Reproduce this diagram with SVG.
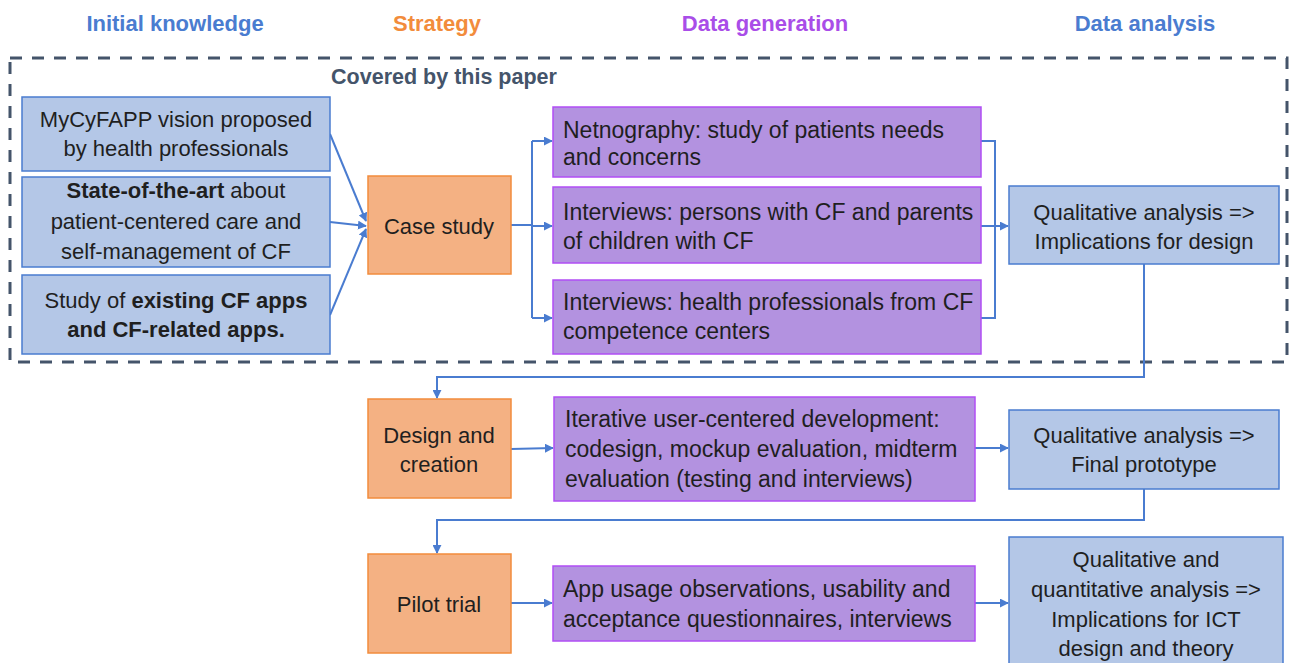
<svg xmlns="http://www.w3.org/2000/svg" width="1290" height="663" viewBox="0 0 1290 663">
<style>
text{font-family:"Liberation Sans",Arial,sans-serif;fill:#1f1f1f;font-size:22px;dominant-baseline:central}
.hdr{font-size:22px;font-weight:bold;text-anchor:middle}
.c{text-anchor:middle}
.b{font-weight:bold}
.p{font-size:23px}
.blue{fill:#B4C7E7;stroke:#4A7CD0;stroke-width:1.5}
.org{fill:#F4B183;stroke:#F28C3C;stroke-width:1.5}
.pur{fill:#B392E0;stroke:#B14EF5;stroke-width:1.5}
.con{fill:none;stroke:#4A7CD0;stroke-width:2}
</style>
<defs>
<marker id="ah" viewBox="0 0 10 10" refX="9" refY="5" markerWidth="9" markerHeight="9" markerUnits="userSpaceOnUse" orient="auto">
<path d="M0,0 L10,5 L0,10 z" fill="#4A7CD0"/>
</marker>
</defs>
<rect width="1290" height="663" fill="#ffffff"/>
<g id="headers">
<text class="hdr" x="175" y="23" style="fill:#4A7CD0">Initial knowledge</text>
<text class="hdr" x="437" y="23" style="fill:#F28C3C">Strategy</text>
<text class="hdr" x="765" y="23" style="fill:#A94DE8">Data generation</text>
<text class="hdr" x="1145" y="23" style="fill:#4A7CD0">Data analysis</text>
</g>
<g id="scope">
<rect x="10" y="58" width="1277" height="304" fill="none" stroke="#44546A" stroke-width="3" stroke-dasharray="12,10"/>
<text x="444" y="77" class="c b" style="fill:#44546A;font-size:21.5px">Covered by this paper</text>
</g>
<g id="connectors">
<path class="con" d="M330,134 L366,221" marker-end="url(#ah)"/>
<path class="con" d="M330,222 L366,226" marker-end="url(#ah)"/>
<path class="con" d="M330,315 L366,229" marker-end="url(#ah)"/>
<path class="con" d="M511,225 L532,225 M532,141 L532,318"/>
<path class="con" d="M532,141 L552,141" marker-end="url(#ah)"/>
<path class="con" d="M532,226 L552,226" marker-end="url(#ah)"/>
<path class="con" d="M532,318 L552,318" marker-end="url(#ah)"/>
<path class="con" d="M981,141 L995,141 L995,318 L981,318"/>
<path class="con" d="M981,226 L1008,226" marker-end="url(#ah)"/>
<path class="con" d="M1144,264 L1144,377 L437,377 L437,398" marker-end="url(#ah)"/>
<path class="con" d="M511,449 L553,448" marker-end="url(#ah)"/>
<path class="con" d="M975,448 L1008,448" marker-end="url(#ah)"/>
<path class="con" d="M1144,488 L1144,520 L437,520 L437,553" marker-end="url(#ah)"/>
<path class="con" d="M511,603 L552,603" marker-end="url(#ah)"/>
<path class="con" d="M975,603 L1008,603" marker-end="url(#ah)"/>
</g>
<g id="vision">
<rect class="blue" x="22" y="97" width="308" height="74"/>
<text class="c" x="176" y="119">MyCyFAPP vision proposed</text>
<text class="c" x="176" y="148">by health professionals</text>
</g>
<g id="sota">
<rect class="blue" x="22" y="177" width="308" height="90"/>
<text class="c" x="176" y="190"><tspan class="b">State-of-the-art</tspan> about</text>
<text class="c" x="176" y="221">patient-centered care and</text>
<text class="c" x="176" y="251">self-management of CF</text>
</g>
<g id="apps">
<rect class="blue" x="22" y="275" width="308" height="79"/>
<text class="c" x="176" y="300">Study of <tspan class="b">existing CF apps</tspan></text>
<text class="c b" x="176" y="329">and CF-related apps.</text>
</g>
<g id="casestudy">
<rect class="org" x="368" y="176" width="143" height="98"/>
<text class="c" x="439" y="226">Case study</text>
</g>
<g id="netnography">
<rect class="pur" x="553" y="107" width="428" height="70"/>
<text class="p" x="563" y="130">Netnography: study of patients needs</text>
<text class="p" x="563" y="157">and concerns</text>
</g>
<g id="interviews1">
<rect class="pur" x="553" y="187" width="428" height="76"/>
<text class="p" x="563" y="212">Interviews: persons with CF and parents</text>
<text class="p" x="563" y="241">of children with CF</text>
</g>
<g id="interviews2">
<rect class="pur" x="553" y="280" width="428" height="74"/>
<text class="p" x="563" y="302">Interviews: health professionals from CF</text>
<text class="p" x="563" y="331">competence centers</text>
</g>
<g id="qa1">
<rect class="blue" x="1009" y="186" width="270" height="78"/>
<text class="c" x="1144" y="212">Qualitative analysis =&gt;</text>
<text class="c" x="1144" y="241">Implications for design</text>
</g>
<g id="design">
<rect class="org" x="368" y="399" width="143" height="99"/>
<text class="c" x="439" y="435">Design and</text>
<text class="c" x="439" y="464">creation</text>
</g>
<g id="iterative">
<rect class="pur" x="554" y="397" width="421" height="104"/>
<text class="p" x="565" y="419">Iterative user-centered development:</text>
<text class="p" x="565" y="449">codesign, mockup evaluation, midterm</text>
<text class="p" x="565" y="479">evaluation (testing and interviews)</text>
</g>
<g id="qa2">
<rect class="blue" x="1009" y="410" width="270" height="79"/>
<text class="c" x="1144" y="435">Qualitative analysis =&gt;</text>
<text class="c" x="1144" y="464">Final prototype</text>
</g>
<g id="pilot">
<rect class="org" x="368" y="554" width="143" height="99"/>
<text class="c" x="439" y="604">Pilot trial</text>
</g>
<g id="usage">
<rect class="pur" x="553" y="566" width="422" height="75"/>
<text class="p" x="563" y="589">App usage observations, usability and</text>
<text class="p" x="563" y="619">acceptance questionnaires, interviews</text>
</g>
<g id="qa3">
<rect class="blue" x="1009" y="537" width="274" height="140"/>
<text class="c" x="1146" y="559">Qualitative and</text>
<text class="c" x="1146" y="589">quantitative analysis =&gt;</text>
<text class="c" x="1146" y="619">Implications for ICT</text>
<text class="c" x="1146" y="648">design and theory</text>
</g>
</svg>
